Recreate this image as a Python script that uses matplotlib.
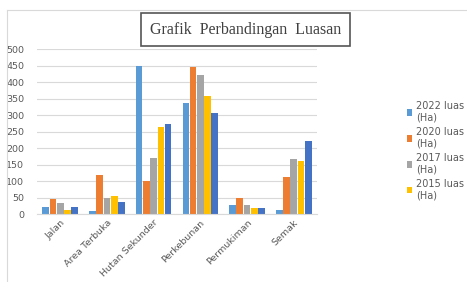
import numpy as np
import matplotlib.pyplot as plt

categories = ['Jalan', 'Area Terbuka', 'Hutan Sekunder', 'Perkebunan', 'Permukiman', 'Semak']
luas_2022 = [22, 8, 450, 338, 28, 12]
luas_2020 = [45, 118, 100, 445, 50, 112]
luas_2017 = [32, 50, 170, 420, 28, 168]
luas_2015 = [12, 55, 265, 358, 18, 162]
luas_lain = [22, 35, 272, 305, 18, 220]

series = [luas_2022, luas_2020, luas_2017, luas_2015, luas_lain]
labels = ['2022 luas\n(Ha)', '2020 luas\n(Ha)', '2017 luas\n(Ha)', '2015 luas\n(Ha)', None]
colors = ['#5B9BD5', '#ED7D31', '#A5A5A5', '#FFC000', '#4472C4']

fig = plt.figure(figsize=(4.67, 2.82), dpi=100)
ax = fig.add_axes([0.079, 0.241, 0.600, 0.585])

x = np.arange(len(categories))
w = 0.155
handles = []
for i, (vals, col) in enumerate(zip(series, colors)):
    b = ax.bar(x + (i - 2) * w, vals, w * 0.92, color=col, zorder=2)
    if labels[i]:
        handles.append((b, labels[i]))

ax.set_xlim(-0.5, 5.5)
ax.set_ylim(0, 500)
ax.set_yticks(range(0, 501, 50))
ax.yaxis.grid(True, color='#D9D9D9', lw=0.8, zorder=0)
for s in ['top', 'right', 'left']:
    ax.spines[s].set_visible(False)
ax.spines['bottom'].set_color('#D9D9D9')
ax.tick_params(length=0, labelsize=6.8, colors='#595959')
ax.tick_params(axis='y', pad=9)
ax.tick_params(axis='x', pad=3)
ax.set_xticks(x)
ax.set_xticklabels(categories, rotation=45, ha='right', rotation_mode='anchor')

leg = fig.legend([h for h, _ in handles], [l for _, l in handles],
                 loc='center left', bbox_to_anchor=(0.852, 0.465), frameon=False,
                 fontsize=7, handlelength=0.6, handleheight=0.6, handletextpad=0.35,
                 labelspacing=0.45, labelcolor='#595959')

fig.text(0.526, 0.895, 'Grafik  Perbandingan  Luasan', ha='center', va='center',
         family='Liberation Serif', fontsize=11.5, color='#404040',
         bbox=dict(boxstyle='square,pad=0.55', fc='white', ec='#555555', lw=1.2))

# outer chart frame (top and left edges visible)
fig.add_artist(plt.Line2D([0.015, 1.0], [0.965, 0.965], color='#D9D9D9', lw=0.8))
fig.add_artist(plt.Line2D([0.015, 0.015], [0.0, 0.965], color='#D9D9D9', lw=0.8))

fig.savefig('out.png', dpi=100)
